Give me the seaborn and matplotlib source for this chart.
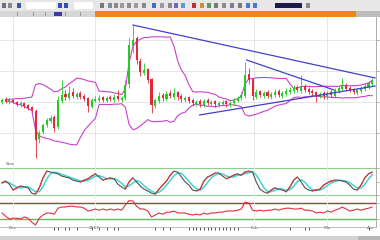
import numpy as np
import pandas as pd
import matplotlib
matplotlib.use("Agg")
import matplotlib.pyplot as plt
import seaborn as sns
from matplotlib.patches import Rectangle

# ---------------- data ----------------
close = [1.58,1.57,1.58,1.56,1.54,1.55,1.52,1.50,1.48,1.18,
         1.25,1.33,1.38,1.40,1.30,1.58,1.63,1.61,1.65,1.62,
         1.64,1.61,1.59,1.52,1.58,1.59,1.60,1.58,1.60,1.59,
         1.61,1.59,1.60,1.73,2.13,2.18,1.98,1.86,1.88,1.78,
         1.53,1.58,1.62,1.60,1.64,1.62,1.65,1.61,1.59,1.60,
         1.57,1.55,1.56,1.54,1.57,1.55,1.56,1.54,1.55,1.56,
         1.54,1.55,1.58,1.60,1.63,1.83,1.78,1.62,1.66,1.63,
         1.65,1.62,1.64,1.66,1.63,1.65,1.67,1.68,1.70,1.68,
         1.71,1.68,1.66,1.65,1.63,1.64,1.62,1.65,1.63,1.68,
         1.70,1.72,1.69,1.68,1.66,1.68,1.70,1.72,1.75,1.78]
open_ = [1.56,1.59,1.56,1.58,1.56,1.53,1.55,1.53,1.51,1.47,
         1.19,1.26,1.33,1.37,1.41,1.31,1.57,1.64,1.60,1.66,
         1.61,1.65,1.62,1.60,1.51,1.57,1.58,1.61,1.57,1.61,
         1.58,1.62,1.58,1.60,1.74,2.12,2.20,1.97,1.85,1.89,
         1.79,1.52,1.57,1.63,1.59,1.65,1.61,1.66,1.62,1.58,
         1.61,1.58,1.54,1.57,1.53,1.58,1.54,1.57,1.53,1.54,
         1.57,1.53,1.55,1.57,1.60,1.62,1.84,1.79,1.61,1.67,
         1.62,1.66,1.61,1.63,1.67,1.62,1.64,1.66,1.67,1.71,
         1.67,1.72,1.69,1.67,1.66,1.62,1.65,1.61,1.66,1.62,
         1.67,1.69,1.73,1.70,1.69,1.65,1.67,1.69,1.71,1.74]
high = [1.60,1.61,1.60,1.59,1.57,1.57,1.56,1.54,1.52,1.49,
        1.28,1.35,1.40,1.43,1.43,1.62,1.78,1.68,1.72,1.70,
        1.66,1.67,1.64,1.61,1.60,1.62,1.63,1.62,1.62,1.63,
        1.64,1.68,1.62,1.78,2.20,2.33,2.22,2.00,1.95,1.90,
        1.80,1.60,1.66,1.65,1.67,1.68,1.70,1.67,1.64,1.62,
        1.62,1.60,1.58,1.59,1.59,1.60,1.58,1.58,1.57,1.58,
        1.58,1.57,1.60,1.62,1.66,1.96,1.90,1.80,1.69,1.68,
        1.67,1.68,1.66,1.69,1.69,1.67,1.70,1.71,1.73,1.73,
        1.83,1.74,1.71,1.69,1.67,1.66,1.67,1.67,1.68,1.70,
        1.72,1.80,1.75,1.72,1.70,1.70,1.72,1.74,1.77,1.80]
low = [1.54,1.55,1.54,1.55,1.52,1.51,1.50,1.48,1.46,1.00,
       1.15,1.24,1.31,1.35,1.26,1.29,1.55,1.58,1.58,1.60,
       1.59,1.59,1.57,1.46,1.50,1.56,1.56,1.56,1.56,1.57,
       1.56,1.57,1.56,1.58,1.70,2.05,1.94,1.82,1.83,1.75,
       1.45,1.50,1.55,1.57,1.57,1.60,1.59,1.58,1.56,1.56,
       1.55,1.52,1.52,1.51,1.51,1.53,1.52,1.51,1.51,1.52,
       1.51,1.51,1.53,1.56,1.58,1.60,1.74,1.58,1.59,1.61,
       1.60,1.60,1.59,1.61,1.61,1.60,1.62,1.64,1.65,1.66,
       1.65,1.66,1.64,1.62,1.56,1.60,1.59,1.59,1.61,1.60,
       1.65,1.67,1.67,1.66,1.64,1.63,1.65,1.67,1.69,1.72]

stoch_k = [47,51,44,31,36,40,38,36,24,22,
           36,58,73,71,69,67,62,60,58,53,
           51,49,53,56,62,67,60,53,56,58,
           56,44,38,33,49,58,49,40,33,29,
           24,22,33,42,51,64,73,71,60,49,
           42,31,29,33,51,60,64,69,69,62,
           56,60,64,67,64,71,73,71,49,33,
           27,24,31,36,33,31,27,38,53,60,
           49,36,31,29,31,33,42,47,51,53,
           53,51,49,42,33,31,42,58,67,71]
rsi = [45,37,30,32,32,30,35,32,22,15,
       32,40,45,45,42,57,60,60,62,62,
       60,60,57,50,52,55,52,55,52,55,
       52,55,52,65,76,75,62,55,55,50,
       35,40,45,42,47,47,50,45,45,45,
       42,40,42,40,45,42,45,45,47,47,
       50,50,50,52,55,72,70,52,50,52,
       50,52,52,55,52,55,57,57,55,55,
       57,52,52,50,45,47,45,50,47,52,
       55,60,55,50,52,55,52,55,57,60]

# trend lines drawn on the chart (bar index, price)
trend_x0 = [35.0, 65.4, 52.8]
trend_y0 = [2.33, 1.98, 1.43]
trend_x1 = [99.8, 88.8, 99.8]
trend_y1 = [1.80, 1.68, 1.72]

date_pos = [3.0, 24.8, 67.5, 87.0, 98.7]
date_labels = ["Dec", "2017", "Feb", "Mar", "Apr"]
price_ticks = [1.25, 1.56, 1.87, 2.18]
event_marks = [14, 15, 17, 18, 20, 24, 26, 28, 30, 31, 41, 43, 45,
               50, 51, 52, 53, 54, 55, 56, 57, 58, 59, 60, 61, 62, 63,
               77, 81, 82, 98]

# ---------------- frame ----------------
sns.set_style("white")
plt.rcParams["font.family"] = ["DejaVu Sans"]

W, H = 380, 240
fig = plt.figure(figsize=(3.8, 2.4), dpi=100)
fig.patch.set_facecolor("white")


def px_axes(x0, y0, x1, y1):
    return fig.add_axes([x0 / W, 1 - y1 / H, (x1 - x0) / W, (y1 - y0) / H])


def px_rect(x0, y0, x1, y1, color, z=0):
    fig.patches.append(Rectangle((x0 / W, 1 - y1 / H), (x1 - x0) / W, (y1 - y0) / H,
                                 transform=fig.transFigure, facecolor=color,
                                 edgecolor="none", zorder=z))


# toolbar
px_rect(0, 0, 380, 11, "#e7e7e7")
px_rect(26, 2, 56, 9, "#ffffff", 1)
px_rect(74, 2, 93, 9, "#ffffff", 1)
px_rect(275, 3, 302, 8, "#1c1c4c", 1)
icons = [(2, "#6d6d8a"), (8, "#8a8a8a"), (17, "#3a5aa8"), (58, "#3050c0"), (64, "#3050c0"),
         (100, "#7a7a7a"), (108, "#7a8aa0"), (114, "#8a8a8a"), (120, "#9a9a9a"), (127, "#8a8a8a"),
         (134, "#9a9a9a"), (142, "#8a8a8a"), (152, "#3b6fc8"), (160, "#9a9a9a"),
         (168, "#8a8a8a"), (174, "#6a6ac0"), (181, "#5a9ad0"), (192, "#c03030"),
         (200, "#d09030"), (207, "#5a9a5a"), (214, "#7a7a7a"), (222, "#8a8a8a"),
         (230, "#7a7a9a"), (238, "#7a7a7a"), (246, "#4a7ad0"), (253, "#4a7ad0"),
         (306, "#8a8a8a")]
for ix, col in icons:
    px_rect(ix, 3, ix + 4, 8, col, 1)

# tab strip
px_rect(0, 11, 95, 17, "#d6d6d6")
px_rect(95, 11, 356, 17, "#f0860c")
px_rect(356, 11, 380, 17, "#bcbcbc")
for tx in [17, 33, 45, 56, 65, 80]:
    px_rect(tx, 12, tx + 1, 16, "#9a9a9a", 1)
px_rect(54, 12, 62, 16, "#3a3aa0", 1)

# ---------------- price panel ----------------
df = pd.DataFrame({"bar": np.arange(len(close)), "open": open_, "high": high,
                   "low": low, "close": close})
mid = df["close"].rolling(12, min_periods=2).mean()
sd = df["close"].rolling(12, min_periods=2).std(ddof=0)
df["upper"] = mid + 2 * sd
df["lower"] = mid - 2 * sd

ax = px_axes(0, 17, 376, 160)
ax.set_xlim(-0.5, 100.0)
ax.set_ylim(0.98, 2.41)
for p in price_ticks:
    ax.axhline(p, color="#e2e2e2", lw=0.6, zorder=0)
for d in date_pos[:-1]:
    ax.axvline(d, color="#e2e2e2", lw=0.6, zorder=0)

sns.lineplot(data=df, x="bar", y="upper", ax=ax, color="#cc40cc", lw=0.8, legend=False)
sns.lineplot(data=df, x="bar", y="lower", ax=ax, color="#cc40cc", lw=0.8, legend=False)

up = df["close"] >= df["open"]
colors = np.where(up, "#22cc22", "#e02a3a")
ax.vlines(df["bar"], df["low"], df["high"], colors=colors, lw=0.6, zorder=3)
ax.bar(df["bar"], (df["close"] - df["open"]).abs().clip(lower=0.006),
       bottom=np.minimum(df["open"], df["close"]), width=0.55, color=colors,
       linewidth=0, zorder=4)

for x0, y0, x1, y1 in zip(trend_x0, trend_y0, trend_x1, trend_y1):
    ax.plot([x0, x1], [y0, y1], color="#4040cc", lw=0.9, zorder=5)

ax.yaxis.tick_right()
ax.set_yticks(price_ticks)
ax.tick_params(axis="y", length=2, width=0.5, color="#888888", labelright=False)
ax.set_xticks([])
ax.set_xlabel("")
ax.set_ylabel("")
for s in ["top", "left", "bottom"]:
    ax.spines[s].set_visible(False)
ax.spines["right"].set_color("#a0a0a0")
ax.spines["right"].set_linewidth(0.6)

# ---------------- stochastic panel ----------------
ind = pd.DataFrame({"bar": np.arange(len(stoch_k)), "k": stoch_k, "rsi": rsi})
ind["d"] = ind["k"].rolling(3, min_periods=1).mean()

ax2 = px_axes(0, 161, 376, 199)
ax2.set_xlim(-0.5, 100.0)
ax2.set_ylim(11.1, 95.6)
for lvl in [80, 20]:
    ax2.axhline(lvl, color="#8ccf8c", lw=0.8, zorder=0)
for d in date_pos[:-1]:
    ax2.axvline(d, color="#ececec", lw=0.6, zorder=0)
sns.lineplot(data=ind, x="bar", y="d", ax=ax2, color="#3fd6d0", lw=1.1, legend=False)
sns.lineplot(data=ind, x="bar", y="k", ax=ax2, color="#505050", lw=0.8, legend=False)
rising = (ind["k"].diff().shift(-1) > 0).fillna(False)
for i in ind.index[rising]:
    ax2.plot(ind["bar"].iloc[i:i + 2], ind["k"].iloc[i:i + 2], color="#e03a3a", lw=0.8, zorder=4)
ax2.text(1, 88, "Stoc", fontsize=3, color="#555555", va="center")
ax2.set_xticks([])
ax2.yaxis.tick_right()
ax2.set_yticks([20, 50, 80])
ax2.tick_params(axis="y", length=2, width=0.5, color="#888888", labelright=False)
ax2.set_xlabel("")
ax2.set_ylabel("")
for s in ["top", "left", "bottom"]:
    ax2.spines[s].set_visible(False)
ax2.spines["right"].set_color("#a0a0a0")
ax2.spines["right"].set_linewidth(0.6)

# ---------------- RSI panel ----------------
ax3 = px_axes(0, 200, 376, 227)
ax3.set_xlim(-0.5, 100.0)
ax3.set_ylim(10, 77.5)
ax3.axhline(70, color="#a83a3a", lw=1.0, zorder=0)
ax3.axhline(30, color="#5cbf5c", lw=1.0, zorder=0)
for d in date_pos[:-1]:
    ax3.axvline(d, color="#ececec", lw=0.6, zorder=0)
sns.lineplot(data=ind, x="bar", y="rsi", ax=ax3, color="#e03040", lw=0.8, legend=False)
ax3.set_xticks([])
ax3.yaxis.tick_right()
ax3.set_yticks([30, 70])
ax3.tick_params(axis="y", length=2, width=0.5, color="#888888", labelright=False)
ax3.set_xlabel("")
ax3.set_ylabel("")
for s in ["top", "left", "bottom"]:
    ax3.spines[s].set_visible(False)
ax3.spines["right"].set_color("#a0a0a0")
ax3.spines["right"].set_linewidth(0.6)

# ---------------- date axis ----------------
ax4 = px_axes(0, 227, 376, 236)
ax4.set_xlim(-0.5, 100.0)
ax4.set_ylim(0, 1)
ax4.vlines(event_marks, 0.72, 0.95, color="#333333", lw=0.6)
ax4.set_xticks(date_pos)
ax4.set_xticklabels(date_labels)
ax4.tick_params(axis="x", direction="in", pad=-7, labelsize=3.2, length=2,
                width=0.5, colors="#555555")
ax4.set_yticks([])
for s in ["top", "left", "right", "bottom"]:
    ax4.spines[s].set_visible(False)
ax4.axhline(1, color="#b0b0b0", lw=0.6)

px_rect(0, 236, 380, 240, "#d2d2d2")
px_rect(358, 236, 380, 240, "#b8b8b8", 1)

fig.savefig("out.png", dpi=100)
